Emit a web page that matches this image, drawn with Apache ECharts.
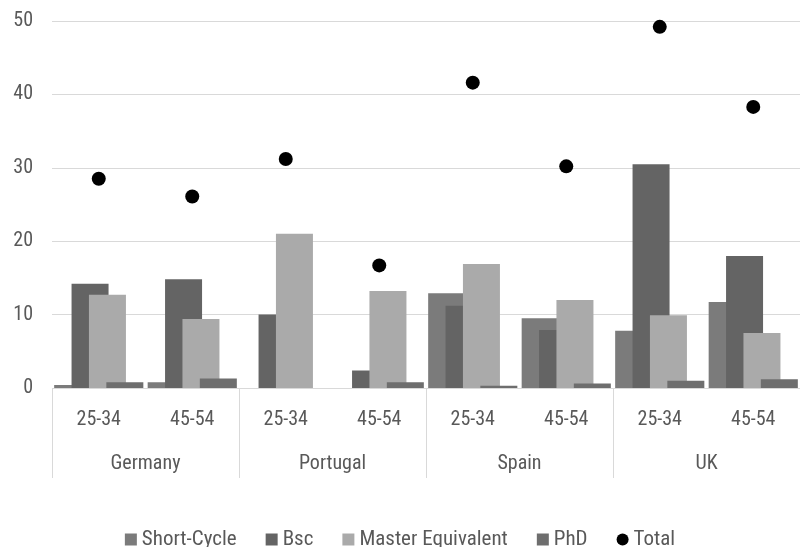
<!DOCTYPE html>
<html>
<head>
<meta charset="utf-8">
<script src="https://cdn.jsdelivr.net/npm/echarts@6/dist/echarts.min.js"></script>
<style>html,body{margin:0;padding:0;background:#fff;}#c{width:800px;height:547px;}</style>
</head>
<body>
<div id="c"></div>
<script>
const ageGroups = ['25-34','45-54','25-34','45-54','25-34','45-54','25-34','45-54'];
const countries = ['Germany','Portugal','Spain','UK'];
const shortCycle = [0.4, 0.8, 0, 0, 12.9, 9.5, 7.8, 11.7];
const bsc = [14.2, 14.8, 10.0, 2.4, 11.2, 7.9, 30.5, 18.0];
const master = [12.7, 9.4, 21.0, 13.2, 16.9, 12.0, 9.9, 7.5];
const phd = [0.8, 1.3, 0, 0.8, 0.3, 0.6, 1.0, 1.2];
const total = [28.5, 26.1, 31.2, 16.7, 41.6, 30.2, 49.2, 38.3];
const yTicks = [0, 10, 20, 30, 40, 50];

const FONT = "'Liberation Sans Narrow', 'Roboto Condensed', 'Open Sans', sans-serif";
const TXT = '#595959';
const FS = 20;
const chart = echarts.init(document.getElementById('c'));
const barCommon = { type: 'bar', barWidth: 37, barGap: '-53%', xAxisIndex: 0 };
chart.setOption({
  animation: false,
  textStyle: { fontFamily: FONT },
  grid: { left: 52, right: 0, top: 21, bottom: 159, containLabel: false },
  legend: {
    top: 524, left: 'center',
    itemWidth: 12, itemHeight: 12, itemGap: 29,
    textStyle: { color: TXT, fontSize: 21, fontFamily: FONT },
    data: [
      { name: 'Short-Cycle', icon: 'rect' },
      { name: 'Bsc', icon: 'rect' },
      { name: 'Master Equivalent', icon: 'rect' },
      { name: 'PhD', icon: 'rect' },
      { name: 'Total', icon: 'circle' }
    ]
  },
  xAxis: [
    {
      type: 'category', data: ageGroups, position: 'bottom',
      axisLine: { show: false }, axisTick: { show: false },
      axisLabel: { color: TXT, fontSize: FS, margin: 22, fontFamily: FONT, interval: 0 }
    },
    {
      type: 'category', data: countries, position: 'bottom',
      axisLine: { show: false },
      axisTick: { show: true, length: 90, interval: 0, lineStyle: { color: '#d9d9d9', width: 1 } },
      axisLabel: { color: TXT, fontSize: FS, margin: 66, fontFamily: FONT, interval: 0 }
    }
  ],
  yAxis: {
    type: 'value', min: yTicks[0], max: yTicks[yTicks.length - 1], interval: 10,
    axisLine: { show: false }, axisTick: { show: false },
    splitLine: { lineStyle: { color: '#d9d9d9', width: 1 } },
    axisLabel: { color: TXT, fontSize: FS, margin: 19, fontFamily: FONT }
  },
  series: [
    Object.assign({ name: 'Short-Cycle', data: shortCycle, itemStyle: { color: '#7b7b7b' } }, barCommon),
    Object.assign({ name: 'Bsc', data: bsc, itemStyle: { color: '#646464' } }, barCommon),
    Object.assign({ name: 'Master Equivalent', data: master, itemStyle: { color: '#aaaaaa' } }, barCommon),
    Object.assign({ name: 'PhD', data: phd, itemStyle: { color: '#6e6e6e' } }, barCommon),
    { name: 'Total', type: 'scatter', data: total, symbol: 'circle', symbolSize: 14, xAxisIndex: 0, itemStyle: { color: '#000', opacity: 1 }, z: 5 }
  ]
});
</script>
</body>
</html>
